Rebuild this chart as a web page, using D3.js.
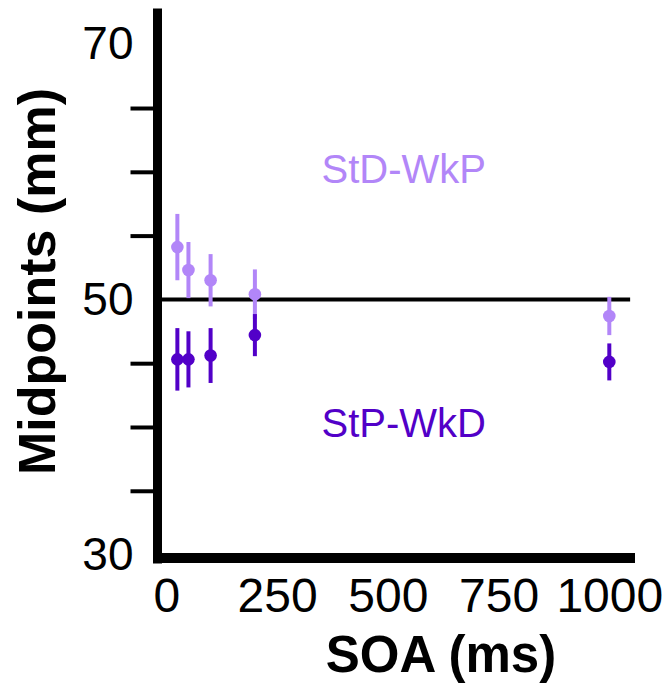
<!DOCTYPE html>
<html>
<head>
<meta charset="utf-8">
<script src="https://cdn.jsdelivr.net/npm/d3@7"></script>
<style>
  html, body { margin: 0; padding: 0; background: #fff; }
  svg { display: block; font-family: "Liberation Sans", Arial, sans-serif; }
</style>
</head>
<body>
<svg id="chart" width="670" height="684"></svg>
<script>
// ---- data ----
const soa = [25, 50, 100, 200, 1000];
const stdWkpMean = [54.1, 52.3, 51.5, 50.4, 48.7];
const stdWkpErr  = [2.6, 2.2, 2.05, 1.95, 1.5];
const stpWkdMean = [45.3, 45.3, 45.6, 47.2, 45.1];
const stpWkdErr  = [2.45, 2.2, 2.15, 1.65, 1.45];
const xTicks = [0, 250, 500, 750, 1000];
const yLabelTicks = [30, 50, 70];
const yMinorTicks = [35, 40, 45, 55, 60, 65];
const refValue = 50;
const seriesNames = ["StD-WkP", "StP-WkD"];
const colors = ["#b286f8", "#5200c8"];

const svg = d3.select("#chart");
const x = d3.scaleLinear().domain([-30, 1058]).range([153, 635]);
const y = d3.scaleLinear().domain([29.3, 72.8]).range([563.5, 8.5]);
const axisX = 157.5, axisY = 558;

// reference line at 50
svg.append("line")
  .attr("x1", x(-30)).attr("x2", x(1047))
  .attr("y1", y(refValue)).attr("y2", y(refValue))
  .attr("stroke", "#000").attr("stroke-width", 4);

// y minor ticks
const gMinor = svg.append("g").attr("transform", `translate(${axisX},0)`)
  .call(d3.axisLeft(y).tickValues(yMinorTicks).tickSize(27).tickFormat(""));
gMinor.select(".domain").remove();
gMinor.selectAll(".tick line").attr("stroke", "#000").attr("stroke-width", 4);

// y labels
const gYLab = svg.append("g").attr("transform", `translate(${axisX},0)`)
  .call(d3.axisLeft(y).tickValues(yLabelTicks).tickSize(0).tickPadding(24));
gYLab.select(".domain").remove();
gYLab.selectAll(".tick text")
  .attr("font-size", 46).attr("fill", "#000")
  .attr("font-family", "Liberation Sans, Arial, sans-serif");

// x labels
const gX = svg.append("g").attr("transform", `translate(0,${axisY})`)
  .call(d3.axisBottom(x).tickValues(xTicks).tickSize(0).tickPadding(20).tickFormat(d3.format("d")));
gX.select(".domain").remove();
gX.selectAll(".tick text")
  .attr("font-size", 48).attr("fill", "#000")
  .attr("font-family", "Liberation Sans, Arial, sans-serif");

// axis lines
svg.append("line")
  .attr("x1", axisX).attr("x2", axisX)
  .attr("y1", y.range()[1]).attr("y2", y.range()[0])
  .attr("stroke", "#000").attr("stroke-width", 9);
svg.append("line")
  .attr("x1", x.range()[0]).attr("x2", x.range()[1])
  .attr("y1", axisY).attr("y2", axisY)
  .attr("stroke", "#000").attr("stroke-width", 10);

// series
const series = [
  { name: seriesNames[0], mean: stdWkpMean, err: stdWkpErr, color: colors[0] },
  { name: seriesNames[1], mean: stpWkdMean, err: stpWkdErr, color: colors[1] }
];
series.forEach(s => {
  const data = soa.map((v, i) => ({ soa: v, m: s.mean[i], e: s.err[i] }));
  const g = svg.append("g");
  g.selectAll("line").data(data).join("line")
    .attr("x1", d => x(d.soa)).attr("x2", d => x(d.soa))
    .attr("y1", d => y(d.m + d.e)).attr("y2", d => y(d.m - d.e))
    .attr("stroke", s.color).attr("stroke-width", 4);
  g.selectAll("circle").data(data).join("circle")
    .attr("cx", d => x(d.soa)).attr("cy", d => y(d.m)).attr("r", 6.3)
    .attr("fill", s.color);
});

// series labels
svg.append("text").attr("x", 321.5).attr("y", 183)
  .attr("font-size", 40).attr("fill", colors[0]).text(seriesNames[0]);
svg.append("text").attr("x", 321.5).attr("y", 437)
  .attr("font-size", 40).attr("fill", colors[1]).text(seriesNames[1]);

// axis titles
svg.append("text")
  .attr("transform", "translate(55,281.5) rotate(-90)")
  .attr("text-anchor", "middle").attr("font-size", 52).attr("font-weight", "bold")
  .text("Midpoints (mm)");
svg.append("text")
  .attr("x", 441).attr("y", 672)
  .attr("text-anchor", "middle").attr("font-size", 51).attr("font-weight", "bold")
  .text("SOA (ms)");
</script>
</body>
</html>
